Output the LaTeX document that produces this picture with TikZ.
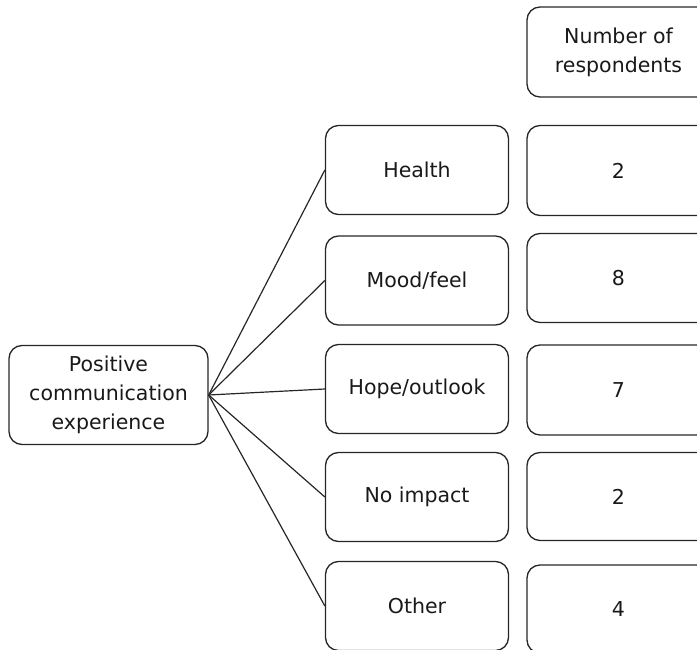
\documentclass[tikz,border=0pt]{standalone}
\usepackage{fontspec}
\setmainfont{DejaVu Sans}
\usepackage{tikz}
\usetikzlibrary{arrows.meta,positioning}
\usepackage{xcolor}

\begin{document}
\begin{tikzpicture}[
    x=1pt, y=-1pt,
    box/.style={draw=black!85, line width=1.3pt, rounded corners=13pt, align=center,
      font=\fontsize{20.5}{29}\selectfont, text=black!90, inner sep=0pt},
    catbox/.style={box, minimum width=183pt, minimum height=89pt},
    link/.style={draw=black!85, line width=1.2pt},
    >=Stealth
  ]
  \useasboundingbox (0,0) rectangle (697,650);
  \clip (0,0) rectangle (697,650);
  \node[box, minimum width=199pt, minimum height=99pt] (positive) at (108.5, 395)
    {Positive\\communication\\experience};
  \node[catbox] (health) at (417, 170) {Health};
  \node[catbox] (mood) at (417, 280.5) {Mood/feel};
  \node[catbox] (hope) at (417, 389) {Hope/outlook};
  \node[catbox] (noimpact) at (417, 497) {No impact};
  \node[catbox] (other) at (417, 606) {Other};
  \node[catbox, minimum height=90pt] (header) at (618.5, 52) {Number of\\respondents};
  \node[catbox, minimum height=90pt] (nhealth) at (618.5, 170.5) {2};
  \node[catbox, minimum height=89pt] (nmood) at (618.5, 278) {8};
  \node[catbox, minimum height=90pt] (nhope) at (618.5, 390) {7};
  \node[catbox, minimum height=88pt] (nnoimpact) at (618.5, 496.5) {2};
  \node[catbox, minimum height=88pt] (nother) at (618.5, 609) {4};
  \foreach \cat in {health, mood, hope, noimpact, other}
    \draw[link] (positive.east) -- (\cat.west);
\end{tikzpicture}
\end{document}
